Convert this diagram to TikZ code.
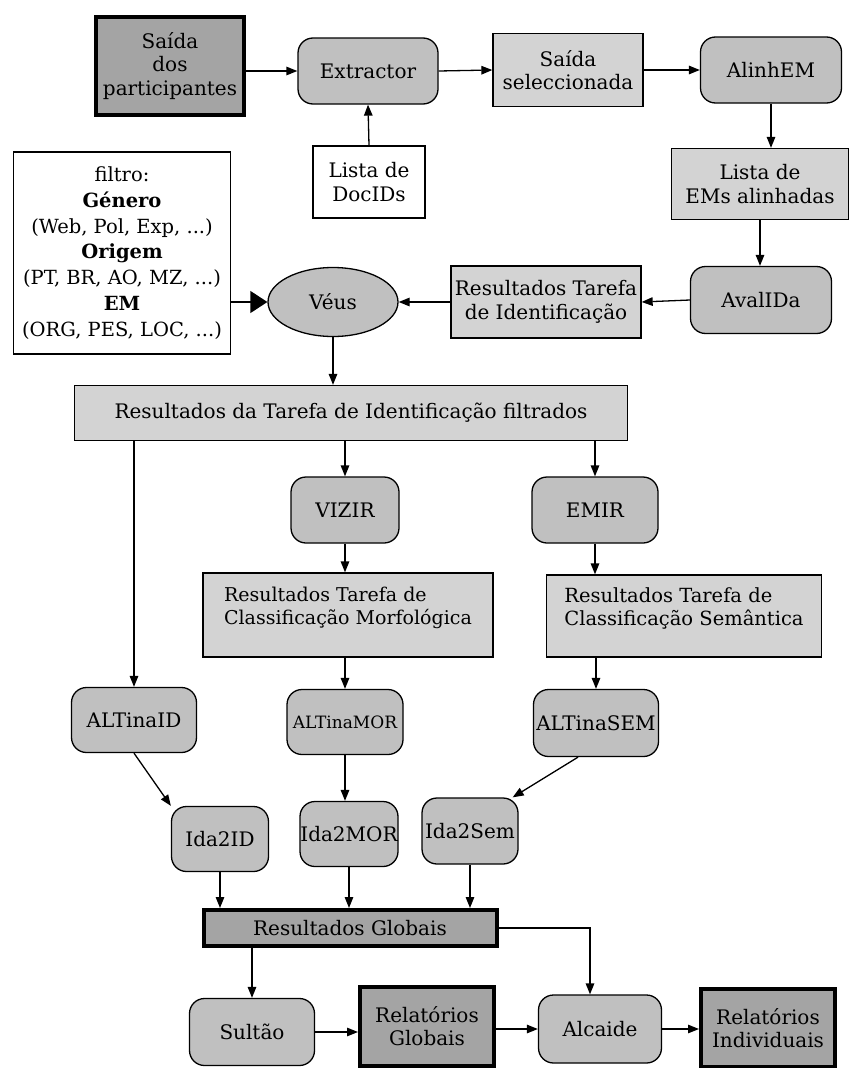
\documentclass[tikz,border=0pt]{standalone}
\usepackage{fontspec}
\setmainfont{DejaVu Serif}
\usetikzlibrary{arrows.meta,shapes.geometric}
\definecolor{darkfill}{HTML}{A4A4A4}
\definecolor{procfill}{HTML}{C0C0C0}
\definecolor{datafill}{HTML}{D3D3D3}
\begin{document}
\begin{tikzpicture}[x=1pt,y=-1pt,line width=1.3pt,>={Triangle[length=11pt,width=8.5pt]},
  every node/.style={font=\fontsize{20}{23.5}\selectfont,align=center,inner sep=0pt,line width=1.3pt},
  proc/.style={draw,fill=procfill,rounded corners=15pt},
  datbox/.style={draw,fill=datafill},
  resbox/.style={draw,fill=darkfill,line width=4pt},
  inbox/.style={draw,fill=white},
  flow/.style={->}]
\useasboundingbox (0,0) rectangle (851,1068);
% input and extraction
\node[resbox,minimum width=148pt,minimum height=98pt] (part) at (170,66) {Saída\\dos\\participantes};
\node[proc,minimum width=140pt,minimum height=66pt] (extr) at (368,71) {Extractor};
\node[inbox,minimum width=112pt,minimum height=72pt] (docs) at (369,182) {Lista de\\DocIDs};
\node[datbox,minimum width=150pt,minimum height=73pt] (sel) at (568,70) {Saída\\seleccionada};
\node[proc,minimum width=141pt,minimum height=66pt] (alinh) at (771,70) {AlinhEM};
\node[datbox,minimum width=177pt,minimum height=71pt] (lista) at (760,184) {Lista de\\EMs alinhadas};
\node[proc,minimum width=141pt,minimum height=67pt] (aval) at (761,300) {AvalIDa};
\node[datbox,minimum width=190pt,minimum height=72pt] (resid) at (546,302) {Resultados Tarefa\\de Identificação};
% filter
\node[inbox,minimum width=217pt,minimum height=202pt,font=\fontsize{19.5}{25.8}\selectfont] (filtro) at (122,253)
  {filtro:\\\textbf{Género}\\(Web, Pol, Exp, ...)\\\textbf{Origem}\\(PT, BR, AO, MZ, ...)\\\textbf{EM}\\(ORG, PES, LOC, ...)};
\node[ellipse,draw,fill=procfill,minimum width=130pt,minimum height=69pt] (veus) at (333,302) {Véus};
\node[datbox,minimum width=553pt,minimum height=55pt] (filt) at (351,413) {Resultados da Tarefa de Identificação filtrados};
% classification
\node[proc,minimum width=108pt,minimum height=66pt] (vizir) at (345,510) {VIZIR};
\node[proc,minimum width=126pt,minimum height=66pt] (emir) at (595,510) {EMIR};
\node[datbox,align=left,minimum width=290pt,minimum height=84pt,font=\fontsize{19}{23}\selectfont] (morf) at (348,615) {Resultados Tarefa de\\Classificação Morfológica\\[-5pt]\mbox{}};
\node[datbox,align=left,minimum width=275pt,minimum height=82pt,font=\fontsize{19.5}{23}\selectfont] (sem) at (684,616) {Resultados Tarefa de\\Classificação Semântica\\[-5pt]\mbox{}};
% evaluation
\node[proc,minimum width=125pt,minimum height=65pt] (altid) at (134,720) {ALTinaID};
\node[proc,minimum width=116pt,minimum height=65pt,font=\fontsize{17}{20}\selectfont] (altmor) at (345,722) {ALTinaMOR};
\node[proc,minimum width=125pt,minimum height=67pt] (altsem) at (596,723) {ALTinaSEM};
\node[proc,minimum width=97pt,minimum height=65pt] (idaid) at (220,839) {Ida2ID};
\node[proc,minimum width=98pt,minimum height=65pt] (idamor) at (349,834) {Ida2MOR};
\node[proc,minimum width=96pt,minimum height=66pt] (idasem) at (470,831) {Ida2Sem};
% reports
\node[resbox,minimum width=293pt,minimum height=36pt] (glob) at (350,928) {Resultados Globais};
\node[proc,minimum width=125pt,minimum height=67pt] (sultao) at (252,1032) {Sultão};
\node[resbox,minimum width=134pt,minimum height=79pt] (relglob) at (427,1026) {Relatórios\\Globais};
\node[proc,minimum width=123pt,minimum height=68pt] (alcaide) at (600,1029) {Alcaide};
\node[resbox,minimum width=134pt,minimum height=78pt] (relind) at (768,1028) {Relatórios\\Individuais};
% connectors
\draw[flow] (part.east |- extr.west) -- (extr.west);
\draw[flow] (docs.north) -- (extr.south);
\draw[flow] (extr.east) -- (sel.west);
\draw[flow] (sel.east) -- (alinh.west);
\draw[flow] (alinh.south) -- (alinh.south |- lista.north);
\draw[flow] (lista.south) -- (lista.south |- aval.north);
\draw[flow] (aval.west) -- (resid.east);
\draw[flow] (resid.west) -- (veus.east);
\draw[->,>={Triangle[length=17pt,width=22pt]}] (filtro.east |- veus.west) -- (veus.west);
\draw[flow] (veus.south) -- (veus.south |- filt.north);
\draw[flow] (altid.north |- filt.south) -- (altid.north);
\draw[flow] (vizir.north |- filt.south) -- (vizir.north);
\draw[flow] (emir.north |- filt.south) -- (emir.north);
\draw[flow] (vizir.south) -- (morf.north -| vizir.south);
\draw[flow] (emir.south) -- (sem.north -| emir.south);
\draw[flow] (morf.south -| altmor.north) -- (altmor.north);
\draw[flow] (sem.south -| altsem.north) -- (altsem.north);
\draw[flow] (altid.south) -- (idaid.north west);
\draw[flow] (altmor.south) -- (idamor.north -| altmor.south);
\draw[flow] ([xshift=-18pt]altsem.south) -- ([xshift=-6pt]idasem.north east);
\draw[flow] (idaid.south) -- (idaid.south |- glob.north);
\draw[flow] (idamor.south) -- (idamor.south |- glob.north);
\draw[flow] (idasem.south) -- (idasem.south |- glob.north);
\draw[flow] (glob.south -| sultao.north) -- (sultao.north);
\draw[flow] (glob.east) -| ([xshift=-10pt]alcaide.north);
\draw[flow] (sultao.east) -- (sultao.east -| relglob.west);
\draw[flow] (relglob.east |- alcaide.west) -- (alcaide.west);
\draw[flow] (alcaide.east) -- (alcaide.east -| relind.west);
\end{tikzpicture}
\end{document}
